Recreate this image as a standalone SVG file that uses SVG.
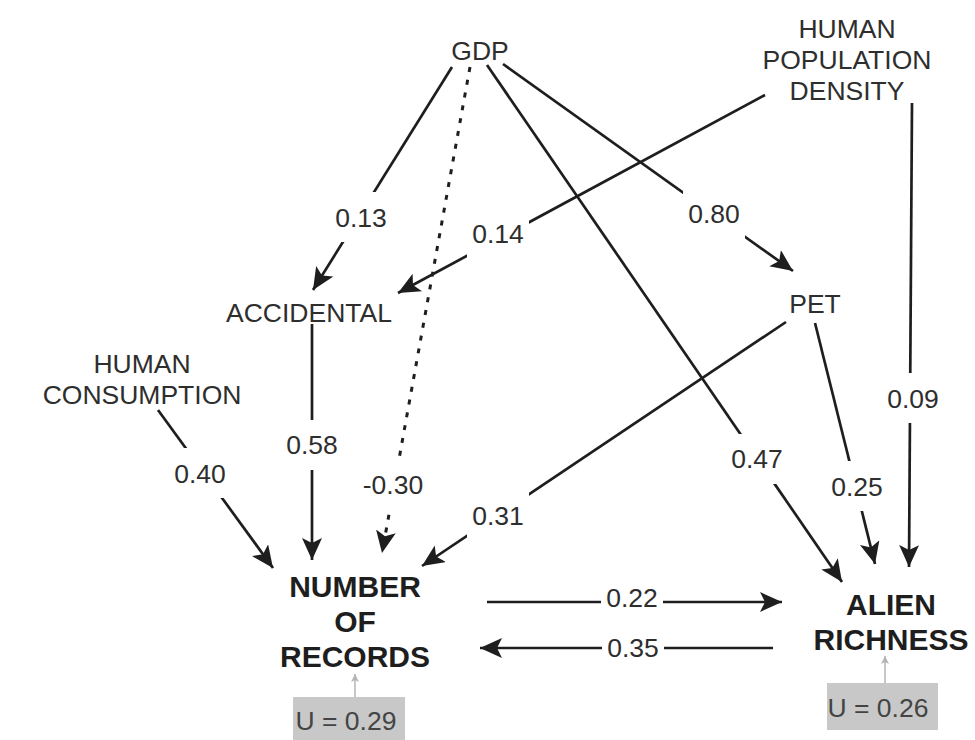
<svg xmlns="http://www.w3.org/2000/svg" width="975" height="740" viewBox="0 0 975 740">
  <defs>
    <marker id="head" markerUnits="userSpaceOnUse" markerWidth="26" markerHeight="22" refX="22" refY="10" orient="auto">
      <path d="M0,0 L22,10 L0,20 L5,10 Z" fill="#1e1e1e"/>
    </marker>
    <marker id="headSmall" markerUnits="userSpaceOnUse" markerWidth="10" markerHeight="10" refX="8" refY="4" orient="auto">
      <path d="M0,0 L8,4 L0,8 L2,4 Z" fill="#b4b4b4"/>
    </marker>
    <style>
      .node { font-family: "Liberation Sans", Arial, sans-serif; font-size: 26.5px; fill: #2e2e2e; text-anchor: middle; }
      .bold { font-weight: bold; font-size: 30px; fill: #1e1e1e; }
      .edge { stroke: #1e1e1e; stroke-width: 2.7; fill: none; marker-end: url(#head); }
      .dotted { stroke-width: 3; stroke-dasharray: 5 8; }
      .lbl rect { fill: #fff; }
      .lbl text { font-family: "Liberation Sans", Arial, sans-serif; font-size: 26.5px; fill: #2e2e2e; text-anchor: middle; }
      .resid rect { fill: #c8c8c8; }
      .resid text { font-family: "Liberation Sans", Arial, sans-serif; font-size: 26.5px; fill: #444; text-anchor: middle; }
      .resid line { stroke: #b4b4b4; stroke-width: 1.5; marker-end: url(#headSmall); }
    </style>
  </defs>
  <rect width="975" height="740" fill="#fff"/>

  <!-- path lines -->
  <g id="connectors">
    <line class="edge" x1="452" y1="67" x2="313" y2="290"/>
    <line class="edge dotted" x1="470" y1="67" x2="382" y2="553"/>
    <line class="edge" x1="487" y1="65" x2="842" y2="582"/>
    <line class="edge" x1="503" y1="64" x2="793" y2="271"/>
    <line class="edge" x1="765" y1="95" x2="398" y2="293"/>
    <line class="edge" x1="912" y1="103" x2="909" y2="567"/>
    <line class="edge" x1="815" y1="323" x2="875" y2="564"/>
    <line class="edge" x1="786" y1="322" x2="422" y2="566"/>
    <line class="edge" x1="312" y1="324" x2="312" y2="560"/>
    <line class="edge" x1="158" y1="410" x2="273" y2="568"/>
    <line class="edge" x1="487" y1="602" x2="782" y2="602"/>
    <line class="edge" x1="773" y1="648" x2="480" y2="648"/>

    <!-- path coefficients -->
    <g class="lbl"><rect x="330" y="192" width="62" height="50"/><text x="361" y="227">0.13</text></g>
    <g class="lbl"><rect x="467" y="209" width="62" height="50"/><text x="498" y="243">0.14</text></g>
    <g class="lbl"><rect x="683" y="189" width="62" height="50"/><text x="714" y="223">0.80</text></g>
    <g class="lbl"><rect x="359" y="460" width="70" height="50"/><text x="393" y="494">-0.30</text></g>
    <g class="lbl"><rect x="281" y="420" width="62" height="50"/><text x="312" y="454">0.58</text></g>
    <g class="lbl"><rect x="169" y="448" width="62" height="50"/><text x="200" y="483">0.40</text></g>
    <g class="lbl"><rect x="467" y="490" width="62" height="50"/><text x="498" y="525">0.31</text></g>
    <g class="lbl"><rect x="726" y="434" width="62" height="50"/><text x="757" y="468">0.47</text></g>
    <g class="lbl"><rect x="826" y="461" width="62" height="50"/><text x="857" y="496">0.25</text></g>
    <g class="lbl"><rect x="882" y="373" width="62" height="50"/><text x="913" y="408">0.09</text></g>
    <g class="lbl"><rect x="601" y="585" width="62" height="34"/><text x="632" y="607">0.22</text></g>
    <g class="lbl"><rect x="602" y="632" width="62" height="34"/><text x="633" y="657">0.35</text></g>
  </g>

  <g id="gdp"><text class="node" x="480" y="60">GDP</text></g>

  <g id="population-density">
    <text class="node" x="847" y="38">HUMAN</text>
    <text class="node" x="847" y="69">POPULATION</text>
    <text class="node" x="847" y="100">DENSITY</text>
  </g>

  <g id="accidental"><text class="node" x="309" y="322">ACCIDENTAL</text></g>

  <g id="pet"><text class="node" x="815" y="313">PET</text></g>

  <g id="consumption">
    <text class="node" x="142" y="373">HUMAN</text>
    <text class="node" x="142" y="404">CONSUMPTION</text>
  </g>

  <g id="records">
    <text class="node bold" x="355" y="597">NUMBER</text>
    <text class="node bold" x="355" y="632">OF</text>
    <text class="node bold" x="355" y="667">RECORDS</text>
    <g class="resid">
      <line x1="355" y1="697" x2="355" y2="674"/>
      <rect x="293" y="697" width="112" height="50"/>
      <text x="346" y="730">U = 0.29</text>
    </g>
  </g>

  <g id="richness">
    <text class="node bold" x="891" y="615">ALIEN</text>
    <text class="node bold" x="891" y="650">RICHNESS</text>
    <g class="resid">
      <line x1="885" y1="683" x2="885" y2="656"/>
      <rect x="827" y="683" width="111" height="47"/>
      <text x="878" y="717">U = 0.26</text>
    </g>
  </g>
</svg>
